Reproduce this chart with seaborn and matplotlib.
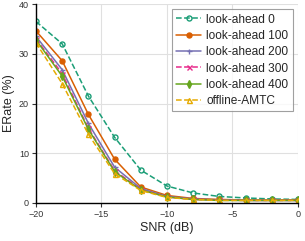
import numpy as np
import pandas as pd
import seaborn as sns
import matplotlib.pyplot as plt

snr = [-20, -18, -16, -14, -12, -10, -8, -6, -4, -2, 0]
la0 = [36.5, 32.0, 21.5, 13.2, 6.6, 3.4, 2.0, 1.3, 1.0, 0.8, 0.7]
la100 = [34.6, 28.6, 17.8, 8.8, 3.2, 1.5, 0.9, 0.7, 0.6, 0.6, 0.6]
la200 = [33.5, 26.8, 16.0, 7.2, 2.9, 1.3, 0.8, 0.6, 0.5, 0.5, 0.5]
la300 = [33.0, 26.0, 15.0, 6.5, 2.7, 1.2, 0.7, 0.6, 0.5, 0.5, 0.5]
la400 = [32.8, 25.5, 14.8, 6.3, 2.6, 1.2, 0.7, 0.5, 0.5, 0.5, 0.5]
offline = [32.2, 24.0, 13.8, 5.9, 2.5, 1.1, 0.7, 0.5, 0.5, 0.5, 0.5]

names = ["look-ahead 0", "look-ahead 100", "look-ahead 200",
         "look-ahead 300", "look-ahead 400", "offline-AMTC"]
series = [la0, la100, la200, la300, la400, offline]

df = pd.DataFrame({
    "SNR": snr * len(names),
    "ERate": sum(series, []),
    "method": np.repeat(names, len(snr)),
})

sns.set_style("whitegrid")
plt.rcParams['font.family'] = ['Liberation Sans', 'DejaVu Sans']

colors = sns.color_palette("Dark2", 6)
markers = ["o", "o", "+", "x", "d", "^"]
dashed = [True, False, False, True, False, True]
mfill = [False, True, True, True, True, False]

fig, ax = plt.subplots(figsize=(3.05, 2.41), dpi=100)
for i, name in enumerate(names):
    sub = df[df["method"] == name]
    sns.lineplot(data=sub, x="SNR", y="ERate", ax=ax, color=colors[i],
                 marker=markers[i], markersize=3.6,
                 linewidth=1.1, linestyle="--" if dashed[i] else "-",
                 markerfacecolor=colors[i] if mfill[i] else "none",
                 markeredgecolor=colors[i], markeredgewidth=1.0,
                 label=name)

ax.set_xlim(-20, 0)
ax.set_ylim(0, 40)
ax.set_xticks([-20, -15, -10, -5, 0])
ax.set_yticks([0, 10, 20, 30, 40])
ax.set_xlabel("SNR (dB)", fontsize=9, labelpad=2)
ax.set_ylabel("ERate (%)", fontsize=9, labelpad=3)
ax.tick_params(axis="both", labelsize=6.5, length=3, width=0.8,
               colors="#333333", pad=2, direction="out")
ax.tick_params(bottom=True, left=True)
ax.grid(color="#e0e0e0", linewidth=0.8)
for s in ["top", "right"]:
    ax.spines[s].set_visible(False)
for s in ["left", "bottom"]:
    ax.spines[s].set_color("black")
    ax.spines[s].set_linewidth(1.0)

leg = ax.legend(loc="upper right", fontsize=8.6, frameon=True, fancybox=False,
                handlelength=2.1, handletextpad=0.45, borderpad=0.35,
                labelspacing=0.36, borderaxespad=0.45)
leg.get_frame().set_edgecolor("#888888")
leg.get_frame().set_linewidth(0.8)

fig.subplots_adjust(left=0.118, right=0.977, bottom=0.158, top=0.983)
fig.savefig("out.png", dpi=100)
